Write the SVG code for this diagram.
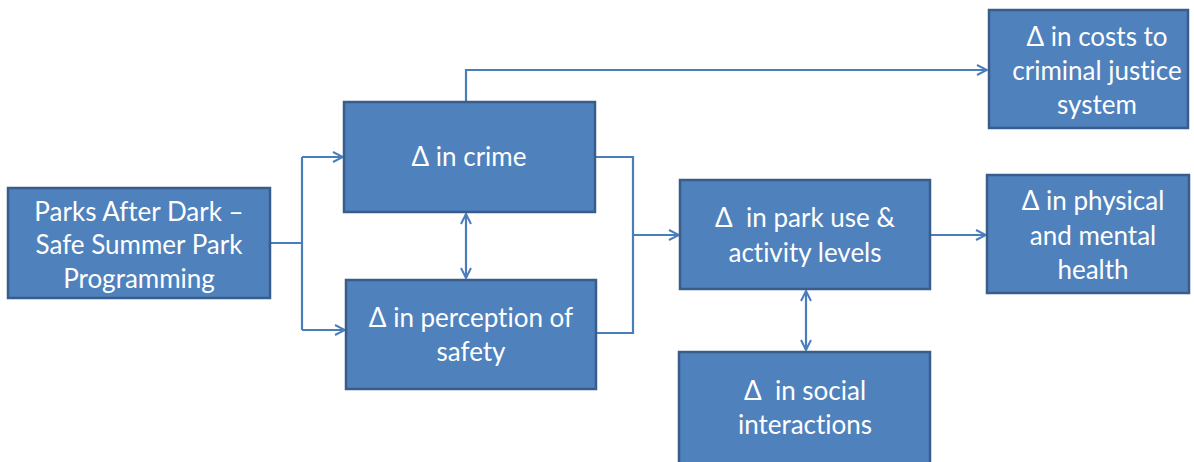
<svg xmlns="http://www.w3.org/2000/svg" width="1194" height="462" viewBox="0 0 1194 462">
<defs>
<style>
.box{fill:#4f81bd;stroke:#385d8a;stroke-width:2.5}
.t{font-family:"Lato","Liberation Sans",sans-serif;font-size:26px;fill:#ffffff;text-anchor:middle;font-variant-ligatures:none;white-space:pre}
.c{fill:none;stroke:#4a7ebb;stroke-width:2.2}
</style>
<marker id="a" viewBox="0 0 12 12" refX="11" refY="6" markerWidth="12" markerHeight="12" markerUnits="userSpaceOnUse" orient="auto-start-reverse">
<path d="M1,1 L11,6 L1,11" fill="none" stroke="#4a7ebb" stroke-width="2"/>
</marker>
</defs>
<rect width="1194" height="462" fill="#ffffff"/>
<g id="connectors">
<path class="c" d="M270,243 H302 M302,157 V330"/>
<path class="c" d="M302,157 H343" marker-end="url(#a)"/>
<path class="c" d="M302,330 H345" marker-end="url(#a)"/>
<path class="c" d="M466,101 V70 H987" marker-end="url(#a)"/>
<path class="c" d="M595,157 H633 V333 H596 M633,235 H679" marker-end="url(#a)"/>
<path class="c" d="M466,214 V278" marker-start="url(#a)" marker-end="url(#a)"/>
<path class="c" d="M930,235 H986" marker-end="url(#a)"/>
<path class="c" d="M806,291 V350" marker-start="url(#a)" marker-end="url(#a)"/>
</g>
<g id="parks">
<rect class="box" x="8" y="188" width="262" height="110"/>
<text class="t" x="139" y="221">Parks After Dark –</text>
<text class="t" x="139" y="254">Safe Summer Park</text>
<text class="t" x="139" y="288">Programming</text>
</g>
<g id="crime">
<rect class="box" x="344" y="102" width="251" height="110"/>
<text class="t" x="469" y="166">Δ in crime</text>
</g>
<g id="perception">
<rect class="box" x="346" y="280" width="250" height="109"/>
<text class="t" x="471" y="327">Δ in perception of</text>
<text class="t" x="471" y="361">safety</text>
</g>
<g id="parkuse">
<rect class="box" x="680" y="180" width="250" height="109"/>
<text class="t" x="805" y="227">Δ  in park use &amp;</text>
<text class="t" x="805" y="262">activity levels</text>
</g>
<g id="costs">
<rect class="box" x="989" y="10" width="199" height="118"/>
<text class="t" x="1097" y="46">Δ in costs to</text>
<text class="t" x="1097" y="80">criminal justice</text>
<text class="t" x="1097" y="114">system</text>
</g>
<g id="health">
<rect class="box" x="987" y="175" width="202" height="118"/>
<text class="t" x="1093" y="210">Δ in physical</text>
<text class="t" x="1093" y="245">and mental</text>
<text class="t" x="1093" y="279">health</text>
</g>
<g id="social">
<rect class="box" x="679" y="352" width="251" height="120"/>
<text class="t" x="805" y="400">Δ  in social</text>
<text class="t" x="805" y="434">interactions</text>
</g>
</svg>
